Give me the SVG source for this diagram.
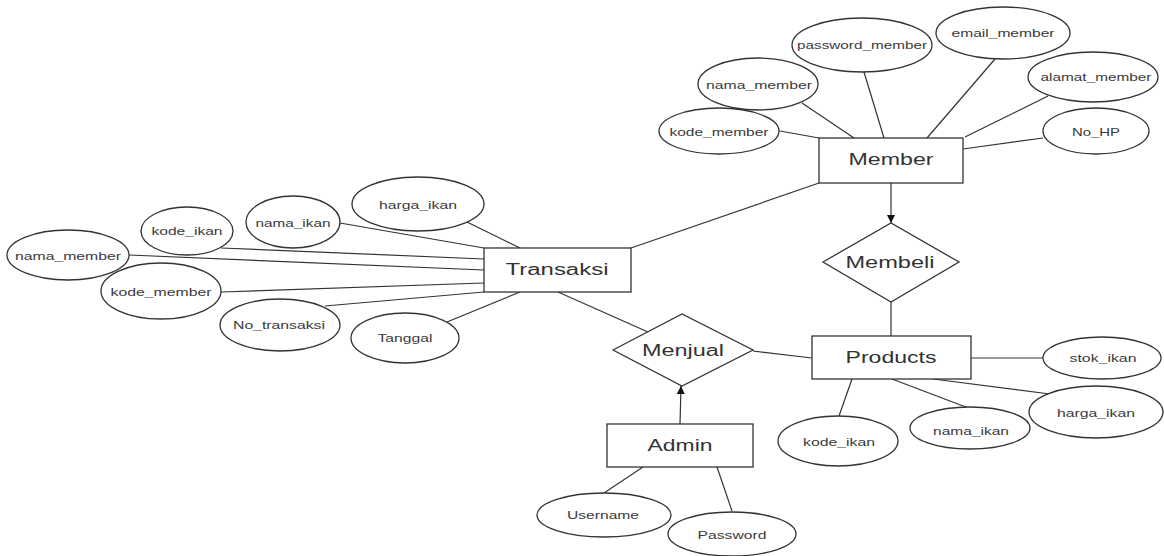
<svg xmlns="http://www.w3.org/2000/svg" width="1164" height="556" viewBox="0 0 1164 556">
  <style>
    .shape { fill: #ffffff; stroke: #333333; stroke-width: 1.3; }
    .link { stroke: #333333; stroke-width: 1.2; fill: none; }
    .attr { font-family: "Liberation Sans", Arial, sans-serif; font-size: 11px; fill: #3a3a3a; text-anchor: middle; }
    .ent { font-family: "Liberation Sans", Arial, sans-serif; font-size: 16px; fill: #333333; text-anchor: middle; }
  </style>
  <defs>
    <marker id="arrow" viewBox="0 0 10 10" refX="10" refY="5" markerWidth="8" markerHeight="8" markerUnits="userSpaceOnUse" orient="auto">
      <path d="M0,0 L10,5 L0,10 Z" fill="#111111"/>
    </marker>
  </defs>
  <rect width="1164" height="556" fill="#ffffff"/>

  <g id="connectors">
    <line class="link" x1="780" y1="131" x2="819" y2="138"/>
    <line class="link" x1="802" y1="103" x2="854" y2="138"/>
    <line class="link" x1="864" y1="72" x2="884" y2="138"/>
    <line class="link" x1="995" y1="59" x2="927" y2="138"/>
    <line class="link" x1="1048" y1="96" x2="965" y2="137"/>
    <line class="link" x1="1043" y1="138" x2="963" y2="149"/>
    <line class="link" x1="819" y1="183" x2="631" y2="248"/>
    <line class="link" x1="467" y1="222" x2="520" y2="248"/>
    <line class="link" x1="340" y1="223" x2="484" y2="248"/>
    <line class="link" x1="221" y1="248" x2="484" y2="259"/>
    <line class="link" x1="129" y1="255" x2="484" y2="270"/>
    <line class="link" x1="221" y1="292" x2="484" y2="283"/>
    <line class="link" x1="325" y1="306" x2="484" y2="292"/>
    <line class="link" x1="447" y1="322" x2="520" y2="292"/>
    <line class="link" x1="558" y1="292" x2="648" y2="332"/>
    <line class="link" x1="753" y1="351" x2="812" y2="358"/>
    <line class="link" x1="891" y1="302" x2="891" y2="336"/>
    <line class="link" x1="971" y1="358" x2="1043" y2="358"/>
    <line class="link" x1="933" y1="379" x2="1050" y2="394"/>
    <line class="link" x1="892" y1="379" x2="971" y2="409"/>
    <line class="link" x1="852" y1="379" x2="839" y2="416"/>
    <line class="link" x1="643" y1="467" x2="604" y2="493"/>
    <line class="link" x1="717" y1="467" x2="732" y2="511"/>
    <line class="link" x1="891" y1="183" x2="891" y2="223" marker-end="url(#arrow)"/>
    <line class="link" x1="680" y1="424" x2="681" y2="386" marker-end="url(#arrow)"/>
  </g>

  <!-- Member entity and its attributes -->
  <g id="member">
    <rect class="shape" x="819" y="138" width="144" height="45"/>
    <text class="ent" x="891" y="165" textLength="85" lengthAdjust="spacingAndGlyphs">Member</text>
  </g>
  <g id="member-password">
    <ellipse class="shape" cx="862" cy="45" rx="70" ry="27"/>
    <text class="attr" x="862" y="49" textLength="130" lengthAdjust="spacingAndGlyphs">password_member</text>
  </g>
  <g id="member-email">
    <ellipse class="shape" cx="1003" cy="33" rx="67" ry="26"/>
    <text class="attr" x="1003" y="37" textLength="103" lengthAdjust="spacingAndGlyphs">email_member</text>
  </g>
  <g id="member-nama">
    <ellipse class="shape" cx="758" cy="84" rx="60" ry="26"/>
    <text class="attr" x="759" y="89" textLength="106" lengthAdjust="spacingAndGlyphs">nama_member</text>
  </g>
  <g id="member-kode">
    <ellipse class="shape" cx="719" cy="131" rx="60" ry="23"/>
    <text class="attr" x="719" y="136" textLength="99" lengthAdjust="spacingAndGlyphs">kode_member</text>
  </g>
  <g id="member-alamat">
    <ellipse class="shape" cx="1093" cy="77" rx="65" ry="25"/>
    <text class="attr" x="1096" y="81" textLength="111" lengthAdjust="spacingAndGlyphs">alamat_member</text>
  </g>
  <g id="member-nohp">
    <ellipse class="shape" cx="1096" cy="131" rx="53" ry="23"/>
    <text class="attr" x="1096" y="136" textLength="48" lengthAdjust="spacingAndGlyphs">No_HP</text>
  </g>

  <!-- Transaksi entity and its attributes -->
  <g id="transaksi">
    <rect class="shape" x="484" y="248" width="147" height="44"/>
    <text class="ent" x="557" y="275" textLength="103" lengthAdjust="spacingAndGlyphs">Transaksi</text>
  </g>
  <g id="transaksi-harga">
    <ellipse class="shape" cx="418" cy="204" rx="66" ry="27"/>
    <text class="attr" x="418" y="209" textLength="78" lengthAdjust="spacingAndGlyphs">harga_ikan</text>
  </g>
  <g id="transaksi-nama-ikan">
    <ellipse class="shape" cx="293" cy="222" rx="47" ry="26"/>
    <text class="attr" x="293" y="227" textLength="75" lengthAdjust="spacingAndGlyphs">nama_ikan</text>
  </g>
  <g id="transaksi-kode-ikan">
    <ellipse class="shape" cx="187" cy="231" rx="46" ry="24"/>
    <text class="attr" x="187" y="235" textLength="71" lengthAdjust="spacingAndGlyphs">kode_ikan</text>
  </g>
  <g id="transaksi-nama-member">
    <ellipse class="shape" cx="68" cy="255" rx="61" ry="25"/>
    <text class="attr" x="68" y="260" textLength="106" lengthAdjust="spacingAndGlyphs">nama_member</text>
  </g>
  <g id="transaksi-kode-member">
    <ellipse class="shape" cx="161" cy="291" rx="60" ry="28"/>
    <text class="attr" x="161" y="296" textLength="101" lengthAdjust="spacingAndGlyphs">kode_member</text>
  </g>
  <g id="transaksi-no">
    <ellipse class="shape" cx="280" cy="325" rx="60" ry="26"/>
    <text class="attr" x="279" y="329" textLength="92" lengthAdjust="spacingAndGlyphs">No_transaksi</text>
  </g>
  <g id="transaksi-tanggal">
    <ellipse class="shape" cx="405" cy="338" rx="54" ry="25"/>
    <text class="attr" x="405" y="342" textLength="55" lengthAdjust="spacingAndGlyphs">Tanggal</text>
  </g>

  <!-- Relationships -->
  <g id="menjual">
    <polygon class="shape" points="613,350 682,314 753,350 682,386"/>
    <text class="ent" x="683" y="356" textLength="82" lengthAdjust="spacingAndGlyphs">Menjual</text>
  </g>
  <g id="membeli">
    <polygon class="shape" points="823,262 891,223 959,262 891,302"/>
    <text class="ent" x="890" y="268" textLength="89" lengthAdjust="spacingAndGlyphs">Membeli</text>
  </g>

  <!-- Products entity and its attributes -->
  <g id="products">
    <rect class="shape" x="812" y="336" width="159" height="43"/>
    <text class="ent" x="891" y="363" textLength="91" lengthAdjust="spacingAndGlyphs">Products</text>
  </g>
  <g id="products-stok">
    <ellipse class="shape" cx="1102" cy="358" rx="59" ry="21"/>
    <text class="attr" x="1103" y="362" textLength="67" lengthAdjust="spacingAndGlyphs">stok_ikan</text>
  </g>
  <g id="products-harga">
    <ellipse class="shape" cx="1096" cy="412" rx="67" ry="26"/>
    <text class="attr" x="1096" y="417" textLength="78" lengthAdjust="spacingAndGlyphs">harga_ikan</text>
  </g>
  <g id="products-nama">
    <ellipse class="shape" cx="970" cy="428" rx="60" ry="21"/>
    <text class="attr" x="971" y="435" textLength="76" lengthAdjust="spacingAndGlyphs">nama_ikan</text>
  </g>
  <g id="products-kode">
    <ellipse class="shape" cx="838" cy="441" rx="60" ry="25"/>
    <text class="attr" x="839" y="446" textLength="72" lengthAdjust="spacingAndGlyphs">kode_ikan</text>
  </g>

  <!-- Admin entity and its attributes -->
  <g id="admin">
    <rect class="shape" x="607" y="424" width="146" height="43"/>
    <text class="ent" x="680" y="451" textLength="65" lengthAdjust="spacingAndGlyphs">Admin</text>
  </g>
  <g id="admin-username">
    <ellipse class="shape" cx="604" cy="515" rx="67" ry="22"/>
    <text class="attr" x="603" y="519" textLength="72" lengthAdjust="spacingAndGlyphs">Username</text>
  </g>
  <g id="admin-password">
    <ellipse class="shape" cx="732" cy="534" rx="64" ry="22"/>
    <text class="attr" x="732" y="539" textLength="69" lengthAdjust="spacingAndGlyphs">Password</text>
  </g>
</svg>
